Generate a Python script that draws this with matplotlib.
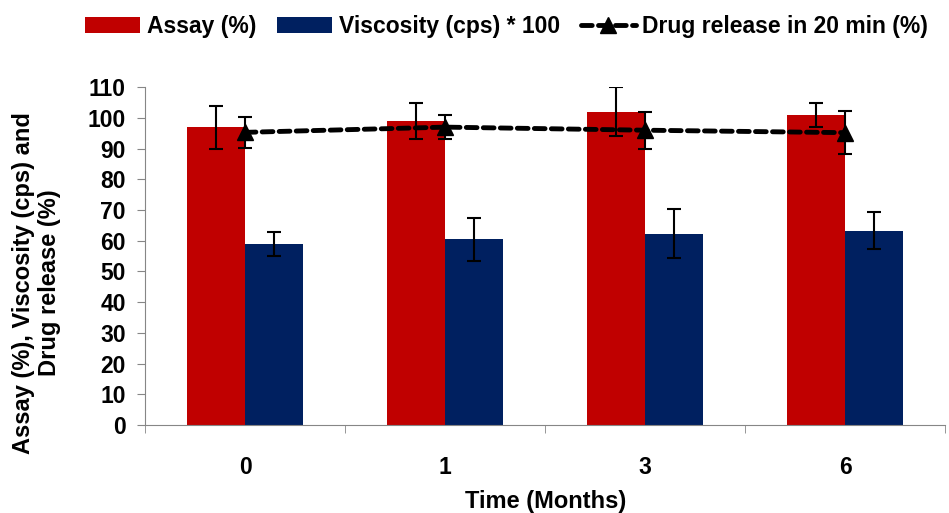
import numpy as np
import matplotlib.pyplot as plt

months = ['0', '1', '3', '6']
assay = [97, 99, 102, 101]
assay_err = [7, 6, 8, 4]
viscosity = [59, 60.5, 62.3, 63.3]
viscosity_err = [4, 7, 8, 6]
release = [95.3, 97, 96, 95.2]
release_err = [5, 4, 6, 7]

plt.rcParams['font.family'] = ['Liberation Sans', 'DejaVu Sans']
plt.rcParams['font.weight'] = 'bold'

fig = plt.figure(figsize=(9.49, 5.13), dpi=100)
ax = fig.add_axes([0.153, 0.1715, 0.843, 0.6585])

x = np.arange(len(months)) + 0.5
w = 0.29
ekw = dict(ecolor='black', elinewidth=1.5, capsize=5, capthick=1.5)
b1 = ax.bar(x - w / 2, assay, w, color='#c00000', label='Assay (%)',
            yerr=assay_err, error_kw=ekw)
b2 = ax.bar(x + w / 2, viscosity, w, color='#002060', label='Viscosity (cps) * 100',
            yerr=viscosity_err, error_kw=ekw)
ax.errorbar(x, release, yerr=release_err, fmt='none', ecolor='black',
            elinewidth=1.5, capsize=5, capthick=1.5)
ln, = ax.plot(x, release, color='black', ls=(0, (2.2, 1.3)), lw=3.5,
              marker='^', ms=12, dash_capstyle='round', label='Drug release in 20 min (%)')

ax.set_xlim(0, 4)
ax.set_ylim(0, 110)
ax.set_yticks(np.arange(0, 111, 10))
ax.set_xticks(x)
ax.set_xticklabels(months)
ax.set_xticks(np.arange(0, 5), minor=True)
ax.tick_params(axis='x', which='major', length=0, pad=22, labelsize=16.5)
ax.tick_params(axis='x', which='minor', length=6, color='#868686')
ax.tick_params(axis='y', length=6, color='#868686', labelsize=16.5, pad=8)
for s in ['top', 'right']:
    ax.spines[s].set_visible(False)
ax.spines['left'].set_color('#868686')
ax.spines['bottom'].set_color('#868686')

ax.set_xlabel('Time (Months)', fontsize=17, fontweight='bold', labelpad=8)
ax.set_ylabel('Assay (%), Viscosity (cps) and\nDrug release (%)', fontsize=17,
              fontweight='bold')
ax.yaxis.set_label_coords(-0.105, 0.42)

fig.legend([b1, b2, ln], [b1.get_label(), b2.get_label(), ln.get_label()],
           loc='upper right', bbox_to_anchor=(1.0, 1.01), ncol=3, frameon=False,
           fontsize=16.5, handlelength=2.4, columnspacing=0.9, handletextpad=0.3)

fig.savefig('out.png', dpi=100)
